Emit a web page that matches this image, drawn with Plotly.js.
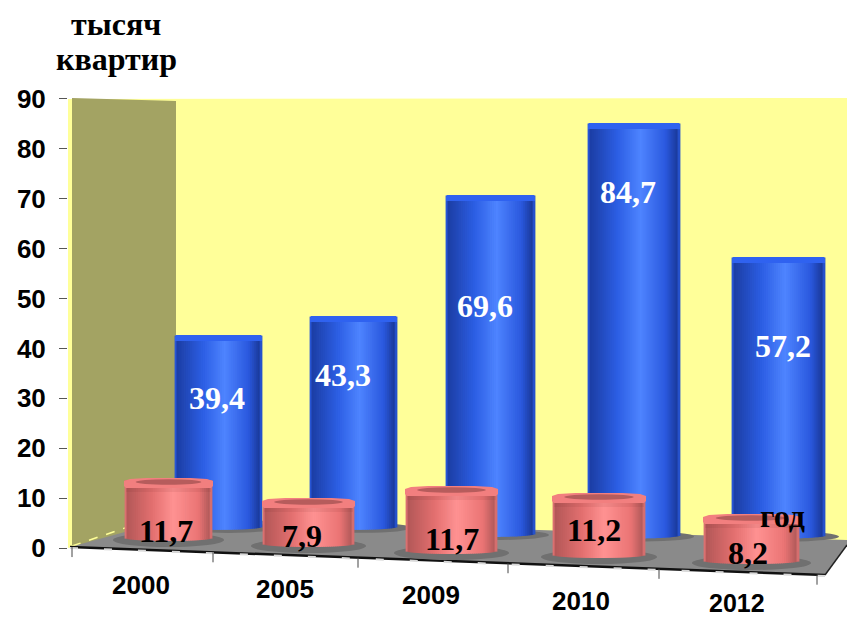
<!DOCTYPE html>
<html><head><meta charset="utf-8">
<script src="https://cdn.plot.ly/plotly-3.0.1.min.js"></script>
<style>html,body{margin:0;padding:0;background:#fff}#c{width:847px;height:617px}</style>
</head><body><div id="c"></div>
<script>
const years = ['2000','2005','2009','2010','2012'];
const blueValues = [39.4,43.3,69.6,84.7,57.2];
const redValues = [11.7,7.9,11.7,11.2,8.2];
const yTicks = [0,10,20,30,40,50,60,70,80,90];

// layout of the perspective drawing (page pixels)
const PX = 4.99, BACK_PX = 4.87, Y0 = 548;
const py = p => (Y0 - p) / PX;
const pyBack = p => (Y0 - p) / BACK_PX;
const blueGeom = [[218.5,43.5,335],[353.5,43.5,316],[490.5,44.5,195],[634,46,123],[778.5,46.5,257]];
const redGeom  = [[168.5,44.5,478,538],[308.5,46.5,498,544],[451.5,46.5,486,551],[599,47,493,555],[751.5,48.5,514,561]];
const blueLabelPos = [[217,398],[343,375],[485,306],[628,192],[783,346]];
const redLabelPos  = [[166,531],[302,536],[452,539],[594,530],[748,553]];
const yearLabelPos = [[141,585],[285,589],[431,595],[581,601],[737,603]];
const xTickPos = [72,213,358,508,659,817];
const blueStops = [[-1,[46,98,240]],[-.94,[28,62,165]],[-.35,[44,94,228]],[.15,[78,132,255]],[.7,[42,88,222]],[.95,[26,58,155]],[1,[46,98,240]]];
const redStops  = [[-1,[240,125,125]],[-.94,[180,88,88]],[-.35,[228,112,112]],[.12,[255,146,146]],[.7,[234,116,116]],[.95,[178,90,90]],[1,[240,125,125]]];
const N = 46;
function shade(st,t){for(let i=1;i<st.length;i++){if(t<=st[i][0]){const a=st[i-1],b=st[i],f=(t-a[0])/(b[0]-a[0]);
  const c=a[1].map((v,k)=>Math.round(v+(b[1][k]-v)*f));return `rgb(${c})`;}}return `rgb(${st[st.length-1][1]})`;}
function cylinder(name,cx,hw,val,edgePy,curve,stops,yaxis,conv){
  const x=[],y=[],base=[],col=[],w=[];
  for(let i=0;i<N;i++){const t=-1+(2*i+1)/N;x.push(cx+t*hw);y.push(val);
    base.push(conv(edgePy+curve*Math.sqrt(1-t*t)));col.push(shade(stops,t));w.push(2*hw/N+0.8);}
  return {type:'bar',name,x,y,base,width:w,yaxis,marker:{color:col,line:{width:0}},hoverinfo:'skip',showlegend:false};
}
const path = pts => 'M'+pts.map(p=>p[0]+','+py(p[1])).join('L')+'Z';
const dshape = (pts,fill,layer,line) => ({type:'path',xref:'x',yref:'y',path:path(pts),fillcolor:fill,layer:layer||'below',line:line||{width:0}});
const ell = (cx,cy,rx,ry,fill,layer) => ({type:'circle',xref:'x',yref:'y',x0:cx-rx,x1:cx+rx,y0:py(cy-ry),y1:py(cy+ry),fillcolor:fill,layer:layer||'below',line:{width:0}});
const seg = (x0,y0,x1,y1,color,width,dash) => ({type:'line',xref:'x',yref:'y',x0,x1,y0:py(y0),y1:py(y1),layer:'below',line:{color,width,dash:dash||'solid'}});
const frontY = x => 547 + (x-70)*28/755;

const shapes = [
  dshape([[68,99],[847,98],[847,545],[176,520],[68,548]],'#ffff99'),
  dshape([[72,98],[176,101],[176,520],[72,547]],'#a3a363'),
  dshape([[70,547],[176,518],[847,540],[847,545],[825,575]],'#8a8a8a'),
  seg(72,546,125,528,'#ffff99',1.5,'dash'),
  seg(70,547,825,575,'#111111',2.5),
  seg(70,548,825,576,'#d8d8d8',2,'8px,26px'),
  seg(825,575,847,545,'#222222',1.5),
];
xTickPos.forEach(x=>shapes.push(seg(x,frontY(x),x,frontY(x)+10,'#444444',1)));
blueGeom.forEach((g,i)=>shapes.push(ell(g[0]+10,g[2]+blueValues[i]*BACK_PX+1,g[1]+4,5,'#707070')));
redGeom.forEach(g=>shapes.push(ell(g[0],g[3]+2,g[1]+11,7,'#707070')));

const traces = [];
blueGeom.forEach((g,i)=>{
  traces.push(cylinder(years[i]+' blue',g[0],g[1],blueValues[i],g[2]+blueValues[i]*BACK_PX,3,blueStops,'y2',pyBack));
  shapes.push(dshape([[g[0]-g[1]+1,g[2]],[g[0]+g[1]-1,g[2]],[g[0]+g[1],g[2]+2],[g[0]+g[1],g[2]+6],[g[0]-g[1],g[2]+6],[g[0]-g[1],g[2]+2]],'#2f62f0','above'));
});
redGeom.forEach((g,i)=>{
  traces.push(cylinder(years[i]+' red',g[0],g[1]-1,redValues[i],g[3],3,redStops,'y3',py));
  const t=g[2],l=g[0]-g[1],r=g[0]+g[1];
  shapes.push(dshape([[l+2,t+10],[r-2,t+10],[r-2,t+14],[l+2,t+14]],'rgba(90,20,20,0.08)','above'));
  shapes.push(dshape([[l+6,t+1],[g[0]-g[1]*0.5,t],[g[0]+g[1]*0.5,t],[r-6,t+1],[r,t+3],[r,t+8],[r-2,t+10],[l+2,t+10],[l,t+8],[l,t+3]],'#f27f7f','above'));
  shapes.push(ell(g[0],t+4,g[1]*0.74,2.7,'#b65c5c','above'));
});

const ann = (x,y,text,size,color,family) => ({xref:'x',yref:'y',x,y:py(y),text,showarrow:false,xanchor:'center',yanchor:'middle',
  font:{family,size,color}});
const SERIF='"Liberation Serif",serif', SANS='"Liberation Sans",sans-serif';
const fmt = v => v.toFixed(1).replace('.',',');
const annotations = [
  ann(116,24,'<b>тысяч</b>',32,'#000',SERIF),
  ann(116,59,'<b>квартир</b>',32,'#000',SERIF),
  ann(782,516,'<b>год</b>',32,'#000',SERIF),
];
blueValues.forEach((v,i)=>annotations.push(ann(blueLabelPos[i][0],blueLabelPos[i][1],'<b>'+fmt(v)+'</b>',32,'#fff',SERIF)));
redValues.forEach((v,i)=>annotations.push(ann(redLabelPos[i][0],redLabelPos[i][1],'<b>'+fmt(v)+'</b>',32,'#000',SERIF)));
years.forEach((s,i)=>annotations.push(ann(yearLabelPos[i][0],yearLabelPos[i][1],'<b>'+s+'</b>',i===4?25:26,'#000',SANS)));

Plotly.newPlot('c',traces,{
  width:847,height:617,margin:{l:68,r:0,t:0,b:0},paper_bgcolor:'#fff',plot_bgcolor:'rgba(0,0,0,0)',
  barmode:'overlay',showlegend:false,
  xaxis:{range:[68,847],visible:false,fixedrange:true},
  yaxis:{range:[py(617),py(0)],tickmode:'array',tickvals:yTicks,ticktext:yTicks.map(String),showgrid:false,zeroline:false,showline:false,
    ticks:'outside',ticklen:8,tickcolor:'#555',tickwidth:1,ticklabelstandoff:8,
    tickfont:{family:SANS,size:26,color:'#000',weight:700},fixedrange:true},
  yaxis2:{overlaying:'y',range:[pyBack(617),pyBack(0)],visible:false,fixedrange:true},
  yaxis3:{overlaying:'y',range:[py(617),py(0)],visible:false,fixedrange:true},
  shapes,annotations
},{displayModeBar:false,staticPlot:true});
</script></body></html>
